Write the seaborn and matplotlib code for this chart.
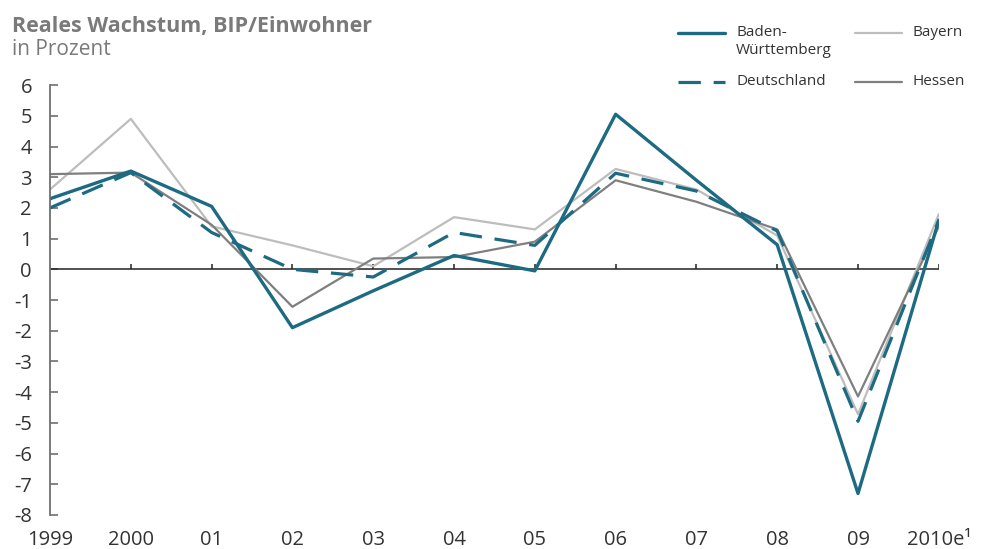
import matplotlib.pyplot as plt
import seaborn as sns
import numpy as np
import pandas as pd
from matplotlib.lines import Line2D

# data
years = ["1999", "2000", "01", "02", "03", "04", "05", "06", "07", "08", "09", "2010e¹"]
baden_wuerttemberg = [2.3, 3.2, 2.05, -1.9, -0.7, 0.45, -0.05, 5.05, 2.9, 0.8, -7.3, 1.6]
deutschland = [2.0, 3.15, 1.2, 0.0, -0.25, 1.2, 0.78, 3.13, 2.55, 1.25, -4.95, 1.6]
bayern = [2.6, 4.9, 1.4, 0.78, 0.1, 1.7, 1.3, 3.27, 2.6, 1.1, -4.72, 1.8]
hessen = [3.1, 3.15, 1.45, -1.22, 0.35, 0.4, 0.9, 2.9, 2.2, 1.3, -4.14, 1.4]

teal = "#1d6b82"
light = "#bdbdbd"
dark = "#7f7f7f"

sns.set_style("white")
plt.rcParams["font.family"] = ["Open Sans", "DejaVu Sans"]

fig = plt.figure(figsize=(9.81, 5.49), dpi=100)
ax = fig.add_axes([0.051, 0.062, 0.906, 0.783])

x = np.arange(len(years))
df = pd.DataFrame({"x": x, "bw": baden_wuerttemberg, "de": deutschland,
                   "by": bayern, "he": hessen})

sns.lineplot(data=df, x="x", y="by", color=light, lw=1.6, ax=ax)
sns.lineplot(data=df, x="x", y="he", color=dark, lw=1.6, ax=ax)
sns.lineplot(data=df, x="x", y="de", color=teal, lw=2.3, ax=ax,
             dashes=False, linestyle=(0, (7, 4)))
sns.lineplot(data=df, x="x", y="bw", color=teal, lw=2.4, ax=ax)

# zero line with small upward ticks at each year
ax.axhline(0, color="#222222", lw=1.1, zorder=1)
ax.vlines(x[1:], 0, 0.17, color="#222222", lw=1.1, zorder=1)

ax.set_xlim(0, len(years) - 1)
ax.set_ylim(-8, 6)
ax.set_yticks(range(-8, 7))
ax.set_yticklabels([str(v) for v in range(-8, 7)])
ax.set_xticks(x)
ax.set_xticklabels(years)
ax.set_xlabel("")
ax.set_ylabel("")

for s in ["top", "right", "bottom"]:
    ax.spines[s].set_visible(False)
ax.spines["left"].set_color("#707070")
ax.spines["left"].set_linewidth(1.3)
ax.tick_params(axis="y", direction="in", length=6, width=1.2, color="#707070",
               pad=13, labelsize=14.5, labelcolor="#333333", left=True)
ax.tick_params(axis="x", length=0, pad=11, labelsize=14.5, labelcolor="#333333")
ax.grid(False)

# title
fig.text(0.012, 0.942, "Reales Wachstum, BIP/Einwohner", fontsize=15.5,
         fontweight="bold", color="#7a7a7a", va="baseline")
fig.text(0.012, 0.9, "in Prozent", fontsize=15, color="#7a7a7a", va="baseline")

# legend, laid out by hand
entries = [
    ("Baden-\nWürttemberg", teal, 2.4, "-", 678, 33),
    ("Deutschland", teal, 2.3, (0, (7, 4)), 678, 82),
    ("Bayern", light, 1.6, "-", 855, 33),
    ("Hessen", dark, 1.6, "-", 855, 82),
]
W, H = 981, 549
for label, col, lw, ls, px, py in entries:
    fig.add_artist(Line2D([px / W, (px + 47) / W], [1 - py / H, 1 - py / H],
                          color=col, lw=lw, linestyle=ls))
    fig.text((px + 58) / W, 1 - (py - 8) / H, label, fontsize=11, color="#333333",
             va="top", linespacing=1.25)

fig.savefig("out.png", dpi=100)
